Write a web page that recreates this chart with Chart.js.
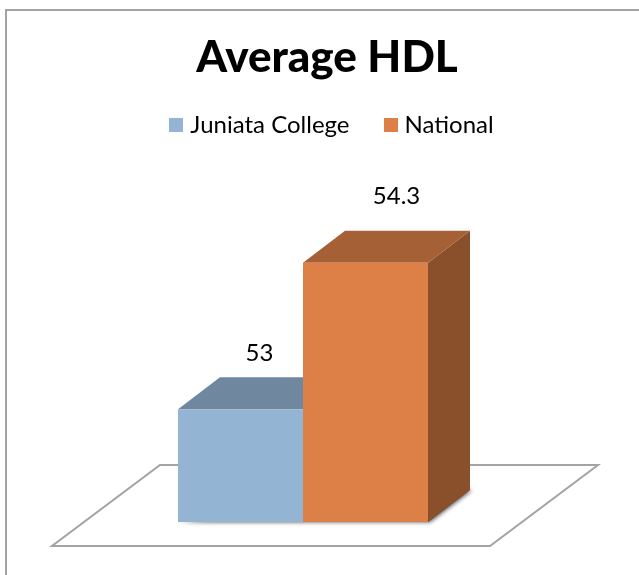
<!DOCTYPE html>
<html>
<head>
<meta charset="utf-8">
<script src="https://cdn.jsdelivr.net/npm/chart.js@4"></script>
<style>
	html, body { margin: 0; padding: 0; background: #fff; }
	#wrap { width: 639px; height: 575px; }
</style>
</head>
<body>
<div id="wrap"><canvas id="hdl-chart"></canvas></div>
<script>
const categories = ["Average HDL"];
const seriesNames = ["Juniata College", "National"];
const juniataValues = [53];
const nationalValues = [54.3];
const frontColors = ["#93B4D2", "#DD8047"];
const topColors = ["#7087A0", "#A66035"];
const sideColors = ["#6A8098", "#8A4F2B"];

const FONT = "Lato, sans-serif";
const depthX = 42;
const depthY = 32;

function polygon(ctx, pts) {
	ctx.beginPath();
	ctx.moveTo(pts[0][0], pts[0][1]);
	pts.slice(1).forEach((p) => ctx.lineTo(p[0], p[1]));
	ctx.closePath();
}

// legend squares as small canvases, default gap to the text is too wide
function legendSwatch(color) {
	const c = document.createElement("canvas");
	c.width = 14;
	c.height = 14;
	const g = c.getContext("2d");
	g.fillStyle = color;
	g.fillRect(0, 0, 14, 14);
	return c;
}

// chart border, sits behind everything
const framePlugin = {
	id: "frame",
	afterLayout(chart) {
		// title and legend sit right of the bar centre in the original
		chart.titleBlock.left += 24;
		chart.titleBlock.right += 24;
		chart.legend.left += 31;
		chart.legend.right += 31;
		chart.legend.top -= 10;
		chart.legend.bottom -= 10;
	},
	beforeDraw(chart) {
		const ctx = chart.ctx;
		ctx.save();
		ctx.strokeStyle = "#A3A3A3";
		ctx.lineWidth = 2;
		ctx.beginPath();
		ctx.moveTo(6, chart.height);
		ctx.lineTo(6, 10);
		ctx.lineTo(chart.width, 10);
		ctx.stroke();
		ctx.restore();
	},
};

// floor plate and the top / side faces of the boxes
const boxPlugin = {
	id: "box",
	beforeDatasetsDraw(chart) {
		const ctx = chart.ctx;
		const area = chart.chartArea;
		const first = chart.getDatasetMeta(0).data[0];
		const last = chart.getDatasetMeta(1).data[0];

		ctx.save();
		polygon(ctx, [
			[area.left - 32, area.bottom + 24],
			[area.right - 32, area.bottom + 24],
			[area.right + 76, area.bottom - 57],
			[area.left + 76, area.bottom - 57],
		]);
		ctx.fillStyle = "#fff";
		ctx.fill();
		ctx.strokeStyle = "#A3A3A3";
		ctx.lineWidth = 2;
		ctx.stroke();

		// soft shadow under the boxes
		const leftX = first.x - first.width / 2;
		const rightX = last.x + last.width / 2;
		ctx.save();
		ctx.shadowColor = "rgba(0,0,0,0.7)";
		ctx.shadowBlur = 4;
		ctx.shadowOffsetX = 2;
		polygon(ctx, [
			[leftX, area.bottom],
			[rightX, area.bottom],
			[rightX + depthX, area.bottom - depthY],
			[rightX, area.bottom - depthY],
		]);
		ctx.fillStyle = "#555";
		ctx.fill();
		ctx.restore();

		[0, 1].forEach((i) => {
			const bar = chart.getDatasetMeta(i).data[0];
			const l = bar.x - bar.width / 2;
			const r = bar.x + bar.width / 2;
			polygon(ctx, [
				[r, bar.y],
				[r + depthX, bar.y - depthY],
				[r + depthX, area.bottom - depthY],
				[r, area.bottom],
			]);
			ctx.fillStyle = sideColors[i];
			ctx.fill();
			polygon(ctx, [
				[l, bar.y],
				[l + depthX, bar.y - depthY],
				[r + depthX, bar.y - depthY],
				[r, bar.y],
			]);
			ctx.fillStyle = topColors[i];
			ctx.fill();
		});
		ctx.restore();
	},
	afterDatasetsDraw(chart) {
		const ctx = chart.ctx;
		const labelShift = [[19, -56], [31, -66]];
		ctx.save();
		ctx.font = "24px " + FONT;
		ctx.fillStyle = "#000";
		ctx.textAlign = "center";
		ctx.textBaseline = "middle";
		chart.data.datasets.forEach((ds, i) => {
			const bar = chart.getDatasetMeta(i).data[0];
			ctx.fillText(String(ds.data[0]), bar.x + labelShift[i][0], bar.y + labelShift[i][1]);
		});
		ctx.restore();
	},
};

new Chart(document.getElementById("hdl-chart"), {
	type: "bar",
	data: {
		labels: categories,
		datasets: [
			{ label: seriesNames[0], data: juniataValues, backgroundColor: frontColors[0] },
			{ label: seriesNames[1], data: nationalValues, backgroundColor: frontColors[1] },
		],
	},
	options: {
		responsive: true,
		maintainAspectRatio: false,
		animation: false,
		layout: { padding: { left: 84, right: 117, bottom: 53 } },
		datasets: { bar: { categoryPercentage: 250 / 438, barPercentage: 1 } },
		plugins: {
			title: {
				display: true,
				text: "Average HDL",
				color: "#000",
				font: { family: FONT, size: 44, weight: "900" },
				padding: { top: 31, bottom: 0 },
			},
			legend: {
				display: true,
				labels: {
					color: "#000",
					font: { family: FONT, size: 24 },
					usePointStyle: true,
					pointStyleWidth: 4,
					boxHeight: 14,
					padding: 39,
					generateLabels(chart) {
						return chart.data.datasets.map((ds, i) => ({
							text: ds.label,
							fontColor: "#000",
							pointStyle: legendSwatch(frontColors[i]),
							datasetIndex: i,
						}));
					},
				},
			},
			tooltip: { enabled: false },
		},
		scales: {
			x: { display: false },
			y: { display: false, min: 52, max: 55.24 },
		},
	},
	plugins: [framePlugin, boxPlugin],
});
</script>
</body>
</html>
